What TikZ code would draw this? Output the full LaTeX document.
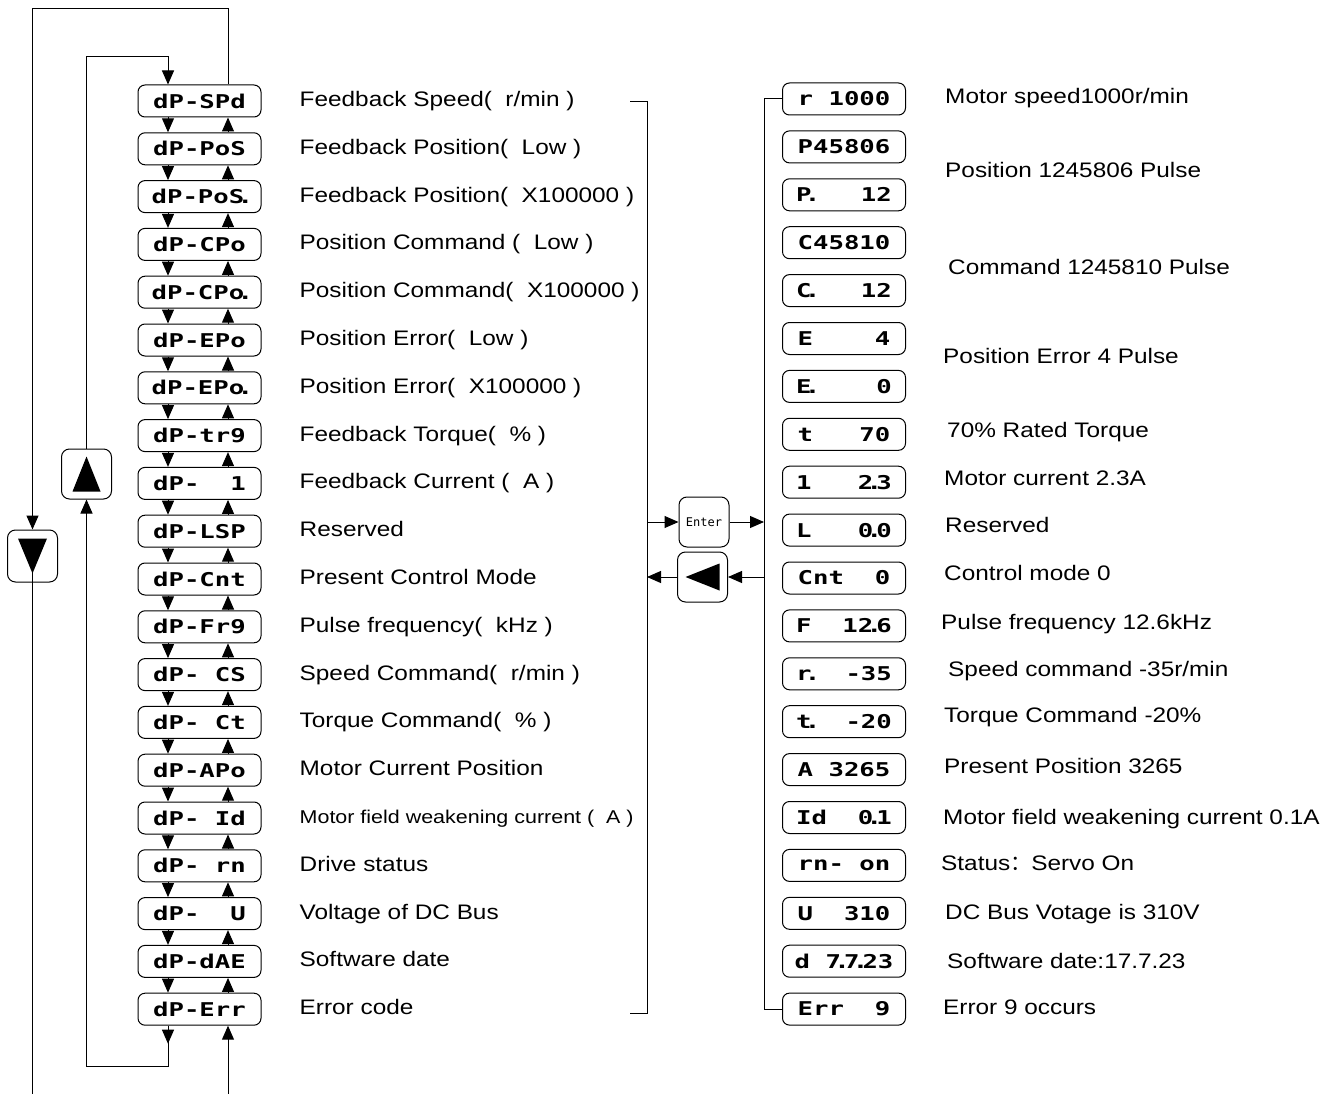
\documentclass[tikz,border=0pt]{standalone}
\usepackage{fontspec}
\setmainfont{Liberation Sans}[FakeStretch=1.16]
\newfontfamily\ledfont{DejaVu Sans Mono}[FakeStretch=1.35]
\newfontfamily\keyfont{DejaVu Sans Mono}
\newfontfamily\cjk{Noto Sans CJK SC}
\usetikzlibrary{arrows.meta,positioning}
\newcommand\ledgap{\hphantom{0}}
\newcommand\ldot{\kern-6.7pt.\kern-5.7pt}

\begin{document}
\begin{tikzpicture}[x=1pt,y=-1pt,>={Triangle[length=14pt,width=12pt]},
led/.style={draw,rounded corners=7pt,line width=1pt,minimum width=123pt,minimum height=32pt,inner sep=0pt,font=\ledfont\bfseries\fontsize{19}{19}\selectfont},
key/.style={draw,rounded corners=8pt,line width=1pt,minimum width=50pt,minimum height=50pt,inner sep=0pt},
desc/.style={inner sep=0pt,anchor=west,text height=16pt,text depth=5pt,font=\fontsize{21}{24}\selectfont},
wire/.style={line width=1pt},arr/.style={->,line width=1pt}]
\useasboundingbox (0,0) rectangle (1339,1094);

\foreach \code [count=\i] in {dP-SPd, dP-PoS, dP-PoS\ldot, dP-CPo, dP-CPo\ldot, dP-EPo, dP-EPo\ldot, dP-tr9, dP-\ledgap\ledgap 1, dP-LSP, dP-Cnt, dP-Fr9, dP-\ledgap CS, dP-\ledgap Ct, dP-APo, dP-\ledgap Id, dP-\ledgap rn, dP-\ledgap\ledgap U, dP-dAE, dP-Err}
  \node[led] (l\i) at (199.5,{101+47.8*(\i-1)}) {\code};

\foreach \txt [count=\i] in {Feedback Speed(\ \ r/min ), Feedback Position(\ \ Low ), Feedback Position(\ \ X100000 ), Position Command (\ \ Low ), Position Command(\ \ X100000 ), Position Error(\ \ Low ), Position Error(\ \ X100000 ), Feedback Torque(\ \ \% ), Feedback Current (\ \ A ), Reserved, Present Control Mode, Pulse frequency(\ \ kHz ), Speed Command(\ \ r/min ), Torque Command(\ \ \% ), Motor Current Position, {\fontsize{18.5}{20}\selectfont Motor field weakening current (\ \ A )}, Drive status, Voltage of DC Bus, Software date, Error code}
  \node[desc,right=38pt of l\i] (d\i) {\txt};

\foreach \code [count=\i] in {r\ledgap 1000, P45806, P\ldot\ledgap\ledgap\ledgap 12, C45810, C\ldot\ledgap\ledgap\ledgap 12, E\ledgap\ledgap\ledgap\ledgap 4, E\ldot\ledgap\ledgap\ledgap\ledgap 0, t\ledgap\ledgap\ledgap 70, 1\ledgap\ledgap\ledgap 2\ldot 3, L\ledgap\ledgap\ledgap 0\ldot 0, Cnt\ledgap\ledgap 0, F\ledgap\ledgap 12\ldot 6, r\ldot\ledgap\ledgap -35, t\ldot\ledgap\ledgap -20, A\ledgap 3265, Id\ledgap\ledgap 0\ldot 1, rn-\ledgap on, U\ledgap\ledgap 310, d\ledgap 7\ldot 7\ldot 23, Err\ledgap\ledgap 9}
  \node[led] (r\i) at (844,{99+47.9*(\i-1)}) {\code};

\node[desc] (t1) at (945,98) {Motor speed1000r/min};
\node[desc] (t2) at (945,172) {Position 1245806 Pulse};
\node[desc] (t3) at (948,269) {Command 1245810 Pulse};
\node[desc] (t4) at (943,358) {Position Error 4 Pulse};
\node[desc] (t5) at (947,432) {70\% Rated Torque};
\node[desc] (t6) at (944,480) {Motor current 2.3A};
\node[desc] (t7) at (945,527) {Reserved};
\node[desc] (t8) at (944,575) {Control mode 0};
\node[desc] (t9) at (941,624) {Pulse frequency 12.6kHz};
\node[desc] (t10) at (948,671) {Speed command -35r/min};
\node[desc] (t11) at (944,717) {Torque Command -20\%};
\node[desc] (t12) at (944,768) {Present Position 3265};
\node[desc] (t13) at (943,819) {Motor field weakening current 0.1A};
\node[desc] (t14) at (941,865) {Status{\cjk ：}Servo On};
\node[desc] (t15) at (945,914) {DC Bus Votage is 310V};
\node[desc] (t16) at (947,963) {Software date:17.7.23};
\node[desc] (t17) at (943,1009) {Error 9 occurs};

\node[key,minimum height=52pt] (dn) at (32.5,556) {};
\node[key] (up) at (86.5,474) {};
\node[key,font=\keyfont\fontsize{12}{12}\selectfont] (enter) at (704,522) {Enter};
\node[key] (back) at (702.5,577) {};

\coordinate (otl) at (32.5,9);
\coordinate (itl) at (86.5,57);
\coordinate (ibl) at (86.5,1066);
\coordinate (obl) at (32.5,1094);
\coordinate (ubl) at (228,1094);
\coordinate (lbt) at (647,102);
\coordinate (lbb) at (647,1013);
\coordinate (rbx) at (764,0);

\foreach \i [evaluate=\i as \j using int(\i+1)] in {1,...,19} {
  \draw[arr] ([xshift=-31.5pt]l\i.south) -- ([xshift=-31.5pt]l\j.north);
  \draw[arr] ([xshift=28.5pt]l\j.north) -- ([xshift=28.5pt]l\i.south);
}

\draw[arr] ([xshift=28.5pt]l1.north) |- (otl) -- (dn.north);
\draw[wire] (dn.center) -- (obl);
\draw[arr] (up.north) -- (itl) -| ([xshift=-31.5pt]l1.north);
\draw[arr] ([xshift=-31.5pt]l20.south) -- ++(0,18);
\draw[arr] ([xshift=-31.5pt]l20.south) |- (ibl) -- (up.south);
\draw[arr] (ubl) -- ([xshift=28.5pt]l20.south);

\fill ([shift={(0,-17.5)}]up.center) -- ([shift={(14,17.5)}]up.center) -- ([shift={(-14,17.5)}]up.center) -- cycle;
\fill ([shift={(0,17.5)}]dn.center) -- ([shift={(14.5,-17.5)}]dn.center) -- ([shift={(-14.5,-17.5)}]dn.center) -- cycle;
\fill ([shift={(-17,0)}]back.center) -- ([shift={(17,-13.5)}]back.center) -- ([shift={(17,13.5)}]back.center) -- cycle;

\draw[wire] ([xshift=-17pt]lbt) -- (lbt) -- (lbb) -- ([xshift=-17pt]lbb);
\draw[wire] (r1.west) -- (r1.west -| rbx) -- (r20.west -| rbx) -- (r20.west);
\draw[arr] (enter.west -| lbt) -- (enter.west);
\draw[arr] (enter.east) -- (enter.east -| rbx);
\draw[arr] (back.east -| rbx) -- (back.east);
\draw[arr] (back.west) -- (back.west -| lbt);
\end{tikzpicture}
\end{document}
